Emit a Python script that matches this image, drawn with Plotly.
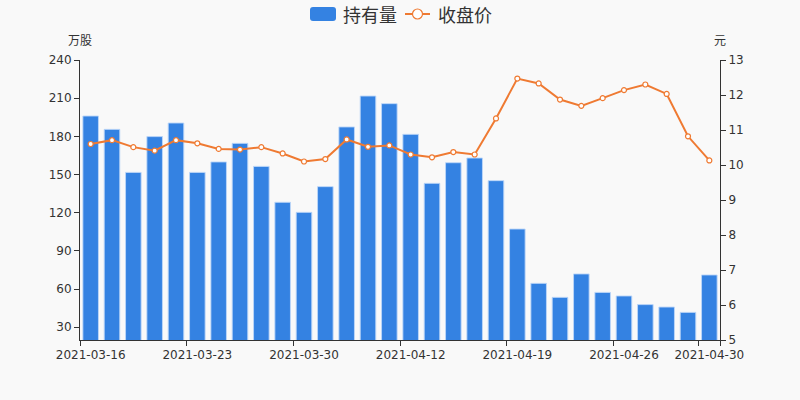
import plotly.graph_objects as go

dates = ["2021-03-16", "2021-03-17", "2021-03-18", "2021-03-19", "2021-03-22",
         "2021-03-23", "2021-03-24", "2021-03-25", "2021-03-26", "2021-03-29",
         "2021-03-30", "2021-03-31", "2021-04-01", "2021-04-02", "2021-04-09",
         "2021-04-12", "2021-04-13", "2021-04-14", "2021-04-15", "2021-04-16",
         "2021-04-19", "2021-04-20", "2021-04-21", "2021-04-22", "2021-04-23",
         "2021-04-26", "2021-04-27", "2021-04-28", "2021-04-29", "2021-04-30"]
holdings = [196.0, 185.5, 151.7, 179.8, 190.5, 151.7, 159.9, 174.5, 156.4, 128.2,
            120.3, 140.5, 187.4, 211.7, 205.7, 181.6, 143.1, 159.3, 163.0, 145.2,
            107.2, 64.5, 53.5, 71.9, 57.4, 54.6, 47.8, 45.9, 41.7, 71.1]
close = [10.60, 10.71, 10.51, 10.41, 10.71, 10.62, 10.46, 10.44, 10.51, 10.33,
         10.10, 10.17, 10.73, 10.52, 10.56, 10.30, 10.22, 10.37, 10.30, 11.33,
         12.47, 12.33, 11.87, 11.69, 11.91, 12.14, 12.30, 12.03, 10.82, 10.13]
tick_dates = ["2021-03-16", "2021-03-23", "2021-03-30", "2021-04-12",
              "2021-04-19", "2021-04-26", "2021-04-30"]

BLUE = "#3482e2"
ORANGE = "#ef7a32"
TXT = "#333333"

fig = go.Figure()
fig.add_trace(go.Bar(
    x=dates, y=holdings, name="持有量",
    marker=dict(color=BLUE, line=dict(color="rgba(190,215,248,0.9)", width=1)),
    showlegend=False,
))
fig.add_trace(go.Scatter(
    x=dates, y=close, name="收盘价", yaxis="y2", mode="lines+markers",
    line=dict(color=ORANGE, width=2),
    marker=dict(symbol="circle", size=5, color="white",
                line=dict(color=ORANGE, width=1.2)),
    showlegend=False,
))

tickfont = dict(family="DejaVu Sans", size=12, color=TXT)
fig.update_layout(
    width=800, height=400,
    margin=dict(l=80, r=80, t=60, b=60),
    paper_bgcolor="#f9f9f9", plot_bgcolor="#f9f9f9",
    bargap=0.27,
    font=dict(family="DejaVu Sans", size=12, color=TXT),
    xaxis=dict(
        type="category", categoryorder="array", categoryarray=dates,
        range=[-0.5, len(dates) - 0.5], automargin=False,
        tickmode="array", tickvals=tick_dates, ticktext=tick_dates,
        tickangle=0, ticklabelstandoff=4,
        tickson="boundaries", ticks="outside", ticklen=5, tickcolor=TXT,
        showline=True, linecolor=TXT, linewidth=1, showgrid=False,
        tickfont=tickfont,
    ),
    yaxis=dict(
        range=[20, 240], tick0=30, dtick=30, showgrid=False, automargin=False,
        showline=True, linecolor=TXT, linewidth=1,
        ticks="outside", ticklen=5, tickcolor=TXT, zeroline=False,
        tickfont=tickfont,
    ),
    yaxis2=dict(
        range=[5, 13], dtick=1, overlaying="y", side="right", showgrid=False,
        automargin=False,
        showline=True, linecolor=TXT, linewidth=1,
        ticks="outside", ticklen=5, tickcolor=TXT, zeroline=False,
        tickfont=tickfont,
    ),
)

# custom legend (pixel coords converted to paper coords)
def px(x):
    return (x - 80) / 640.0

def py(y):
    return (340 - y) / 280.0

r = 3
x0, x1, y0, y1 = 310, 336, 7, 21
path = (f"M {px(x0 + r)} {py(y0)} L {px(x1 - r)} {py(y0)} "
        f"Q {px(x1)} {py(y0)} {px(x1)} {py(y0 + r)} L {px(x1)} {py(y1 - r)} "
        f"Q {px(x1)} {py(y1)} {px(x1 - r)} {py(y1)} L {px(x0 + r)} {py(y1)} "
        f"Q {px(x0)} {py(y1)} {px(x0)} {py(y1 - r)} L {px(x0)} {py(y0 + r)} "
        f"Q {px(x0)} {py(y0)} {px(x0 + r)} {py(y0)} Z")
fig.add_shape(type="path", xref="paper", yref="paper", path=path,
              fillcolor=BLUE, line=dict(width=0))
fig.add_shape(type="line", xref="paper", yref="paper",
              x0=px(405), x1=px(430), y0=py(14), y1=py(14),
              line=dict(color=ORANGE, width=2))
fig.add_shape(type="circle", xref="paper", yref="paper",
              x0=px(412.5), x1=px(422.5), y0=py(19), y1=py(9),
              fillcolor="white", line=dict(color=ORANGE, width=1.2))

ann_font = dict(family="Noto Sans CJK SC", size=18, color=TXT)
fig.add_annotation(x=px(341), y=py(14), xref="paper", yref="paper",
                   text="持有量", showarrow=False, xanchor="left", yanchor="middle",
                   font=ann_font)
fig.add_annotation(x=px(436), y=py(14), xref="paper", yref="paper",
                   text="收盘价", showarrow=False, xanchor="left", yanchor="middle",
                   font=ann_font)
small = dict(family="Noto Sans CJK SC", size=12, color=TXT)
fig.add_annotation(x=px(80), y=py(39), xref="paper", yref="paper",
                   text="万股", showarrow=False, xanchor="center", yanchor="middle",
                   font=small)
fig.add_annotation(x=px(720), y=py(39), xref="paper", yref="paper",
                   text="元", showarrow=False, xanchor="center", yanchor="middle",
                   font=small)

fig.write_html("out.html",
               config={"displayModeBar": False},
               post_script="document.body.style.margin='0';"
                           "document.body.style.background='#f9f9f9';")
